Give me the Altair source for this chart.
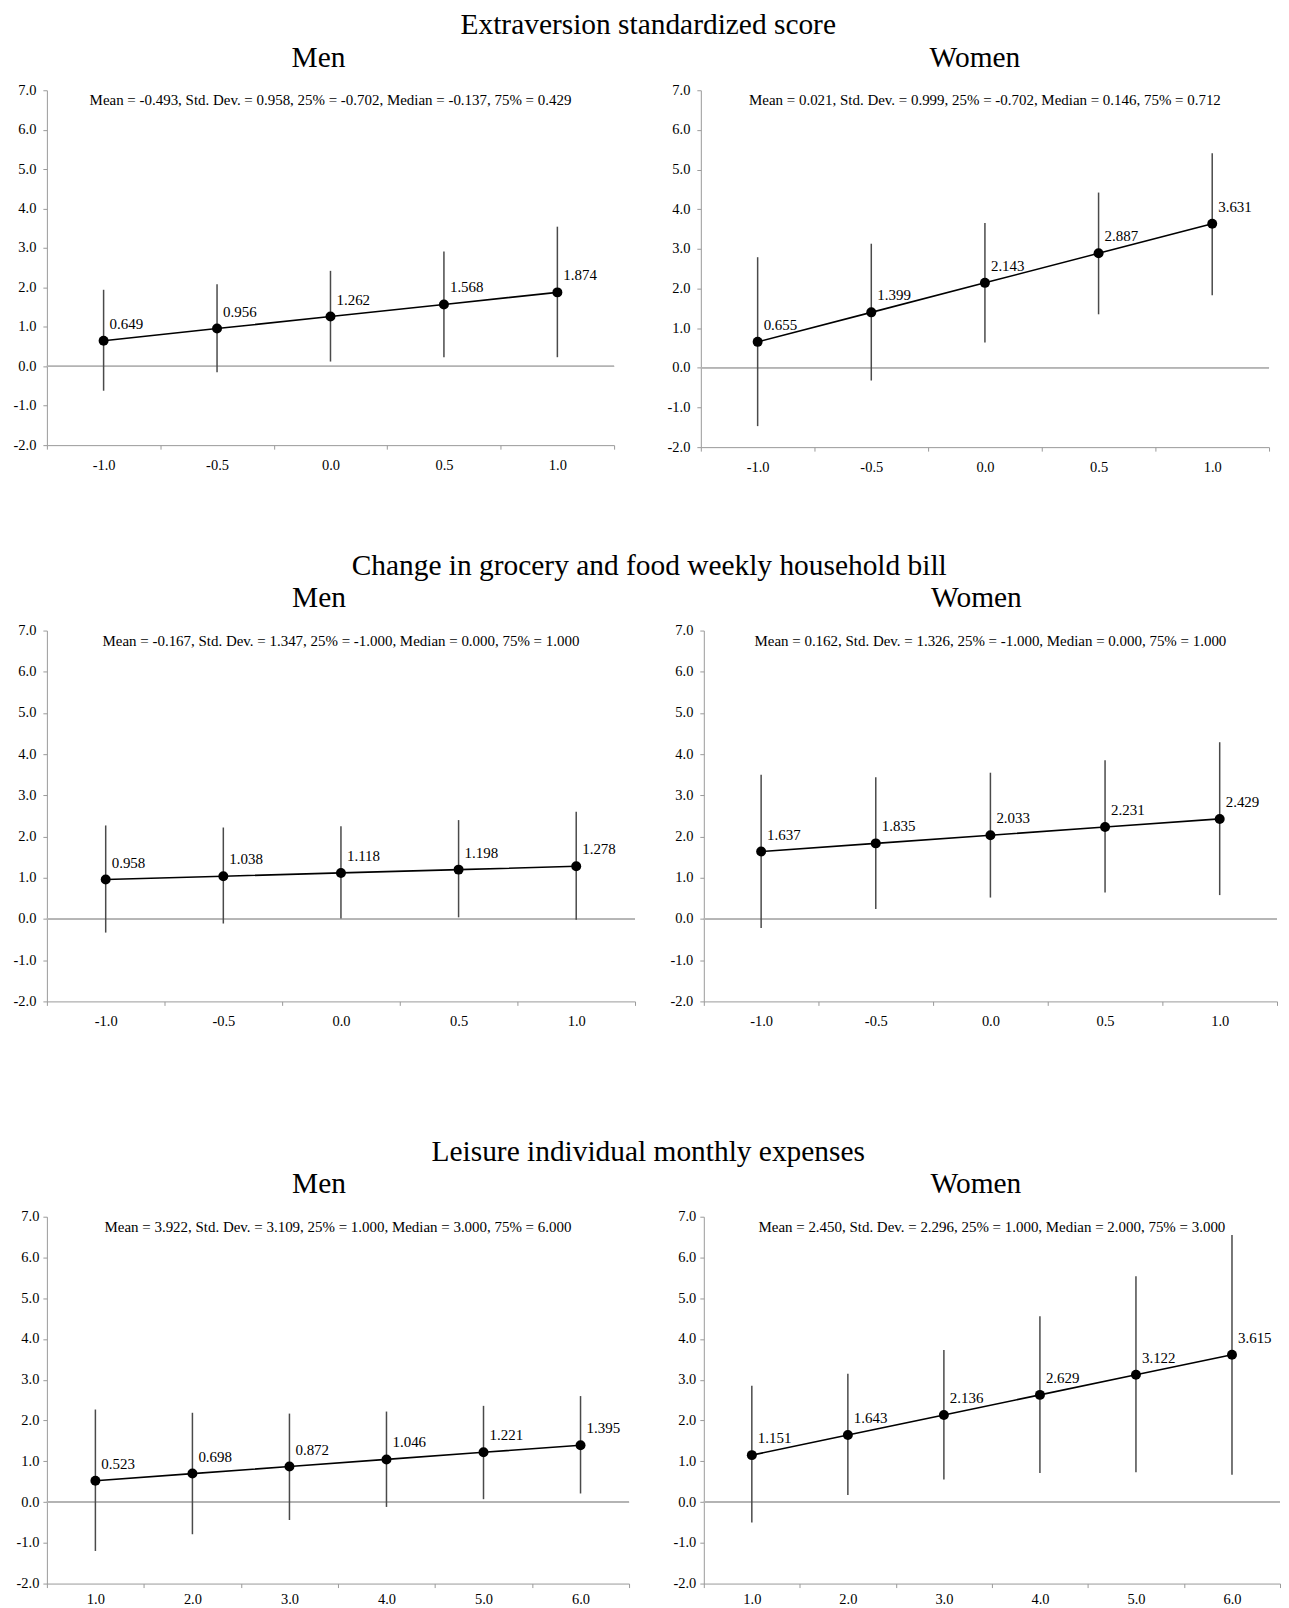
import altair as alt
import pandas as pd

FONT = "Liberation Serif"

# ---- data ----
ext_x = ["-1.0", "-0.5", "0.0", "0.5", "1.0"]
ext_men_val = [0.649, 0.956, 1.262, 1.568, 1.874]
ext_men_lo = [-0.62, -0.15, 0.12, 0.23, 0.23]
ext_men_hi = [1.94, 2.08, 2.42, 2.91, 3.54]
ext_women_val = [0.655, 1.399, 2.143, 2.887, 3.631]
ext_women_lo = [-1.47, -0.32, 0.64, 1.35, 1.83]
ext_women_hi = [2.79, 3.13, 3.65, 4.42, 5.41]

gro_x = ["-1.0", "-0.5", "0.0", "0.5", "1.0"]
gro_men_val = [0.958, 1.038, 1.118, 1.198, 1.278]
gro_men_lo = [-0.33, -0.11, 0.01, 0.04, -0.02]
gro_men_hi = [2.27, 2.22, 2.25, 2.40, 2.60]
gro_women_val = [1.637, 1.835, 2.033, 2.231, 2.429]
gro_women_lo = [-0.22, 0.24, 0.52, 0.64, 0.58]
gro_women_hi = [3.50, 3.44, 3.55, 3.85, 4.29]

lei_x = ["1.0", "2.0", "3.0", "4.0", "5.0", "6.0"]
lei_men_val = [0.523, 0.698, 0.872, 1.046, 1.221, 1.395]
lei_men_lo = [-1.20, -0.79, -0.44, -0.12, 0.07, 0.21]
lei_men_hi = [2.27, 2.19, 2.17, 2.22, 2.36, 2.60]
lei_women_val = [1.151, 1.643, 2.136, 2.629, 3.122, 3.615]
lei_women_lo = [-0.50, 0.17, 0.55, 0.71, 0.73, 0.67]
lei_women_hi = [2.85, 3.15, 3.73, 4.56, 5.54, 6.55]

row_titles = [
    "Extraversion standardized score",
    "Change in grocery and food weekly household bill",
    "Leisure individual monthly expenses",
]
annotations = [
    "Mean = -0.493, Std. Dev. = 0.958, 25% = -0.702, Median = -0.137, 75% = 0.429",
    "Mean = 0.021, Std. Dev. = 0.999, 25% = -0.702, Median = 0.146, 75% = 0.712",
    "Mean = -0.167, Std. Dev. = 1.347, 25% = -1.000, Median = 0.000, 75% = 1.000",
    "Mean = 0.162, Std. Dev. = 1.326, 25% = -1.000, Median = 0.000, 75% = 1.000",
    "Mean = 3.922, Std. Dev. = 3.109, 25% = 1.000, Median = 3.000, 75% = 6.000",
    "Mean = 2.450, Std. Dev. = 2.296, 25% = 1.000, Median = 2.000, 75% = 3.000",
]
y_ticks = [-2, -1, 0, 1, 2, 3, 4, 5, 6, 7]

AXIS_GRAY = "#9a9a9a"
Y_LABEL_EXPR = ("datum.value < 0 ? '-' + format(-datum.value, '.1f') "
                ": format(datum.value, '.1f')")


def panel(title, cats, vals, lo, hi, annot, width, height, tdx, ypad=7, xpad=9):
    df = pd.DataFrame({
        "x": cats, "val": vals, "lo": lo, "hi": hi,
        "lab": [f"{v:.3f}" for v in vals],
    })
    yscale = alt.Scale(domain=[-2, 7], nice=False, zero=False)
    xenc = alt.X(
        "x:N", sort=cats, title=None,
        scale=alt.Scale(paddingInner=0, paddingOuter=0),
        axis=alt.Axis(labelAngle=0, tickBand="extent", labelPadding=xpad),
    )
    yaxis = alt.Axis(values=y_ticks, labelExpr=Y_LABEL_EXPR, grid=False,
                     labelPadding=ypad, labelOverlap=False)
    base = alt.Chart(df)
    zero = base.mark_rule(color="#b4b4b4", strokeWidth=1).encode(
        y=alt.datum(0, scale=yscale, axis=yaxis, title=None)
    )
    bars = base.mark_rule(color="#4a4a4a", strokeWidth=1.5).encode(
        x=xenc,
        y=alt.Y("lo:Q", scale=yscale, axis=yaxis, title=None),
        y2="hi:Q",
    )
    line = base.mark_line(color="black", strokeWidth=1.6).encode(
        x=xenc, y=alt.Y("val:Q", scale=yscale, axis=yaxis, title=None)
    )
    pts = base.mark_circle(color="black", size=100, opacity=1).encode(
        x=xenc, y=alt.Y("val:Q", scale=yscale, axis=yaxis, title=None)
    )
    labs = base.mark_text(align="left", baseline="bottom", dx=6, dy=-9,
                          font=FONT, fontSize=15, color="black").encode(
        x=xenc, y=alt.Y("val:Q", scale=yscale, axis=yaxis, title=None),
        text="lab:N"
    )
    ann_df = pd.DataFrame({"t": [annot], "y": [6.75]})
    ann = alt.Chart(ann_df).mark_text(align="center", baseline="middle",
                                      font=FONT, fontSize=15,
                                      color="black").encode(
        x=alt.value(width / 2),
        y=alt.Y("y:Q", scale=yscale, axis=yaxis, title=None),
        text="t:N",
    )
    return alt.layer(zero, bars, line, pts, labs, ann).properties(
        width=width, height=height,
        title=alt.TitleParams(title, font=FONT, fontSize=29.5,
                              fontWeight="normal", color="black",
                              anchor="middle", offset=9, dx=tdx),
    )


def row(title, p1, p2, spacing, dx):
    return alt.hconcat(p1, p2, spacing=spacing).properties(
        title=alt.TitleParams(title, font=FONT, fontSize=29.5,
                              fontWeight="normal", color="black",
                              anchor="middle", offset=2, dx=dx)
    )


r1 = row(row_titles[0],
         panel("Men", ext_x, ext_men_val, ext_men_lo, ext_men_hi, annotations[0], 569, 356, -12),
         panel("Women", ext_x, ext_women_val, ext_women_lo, ext_women_hi, annotations[1], 570, 358, -10),
         52, 7)
r2 = row(row_titles[1],
         panel("Men", gro_x, gro_men_val, gro_men_lo, gro_men_hi, annotations[2], 590, 372, -22),
         panel("Women", gro_x, gro_women_val, gro_women_lo, gro_women_hi, annotations[3], 575, 372, -14),
         34, 4)
r3 = row(row_titles[2],
         panel("Men", lei_x, lei_men_val, lei_men_lo, lei_men_hi, annotations[4], 584, 368, -19, ypad=4, xpad=5),
         panel("Women", lei_x, lei_women_val, lei_women_lo, lei_women_hi, annotations[5], 578, 368, -16, ypad=4, xpad=5),
         43, 0)

chart = alt.vconcat(alt.vconcat(r1, r2, spacing=77), r3, spacing=109).properties(
    padding={"left": 5, "top": 0, "right": 0, "bottom": 0}
).configure_view(stroke=None).configure_axis(
    labelFont=FONT, labelFontSize=14.5, labelColor="black",
    tickSize=4, tickColor=AXIS_GRAY, domainColor=AXIS_GRAY,
    labelFontWeight="normal",
)

chart.save("out.html", embed_options={"renderer": "svg", "actions": False})
